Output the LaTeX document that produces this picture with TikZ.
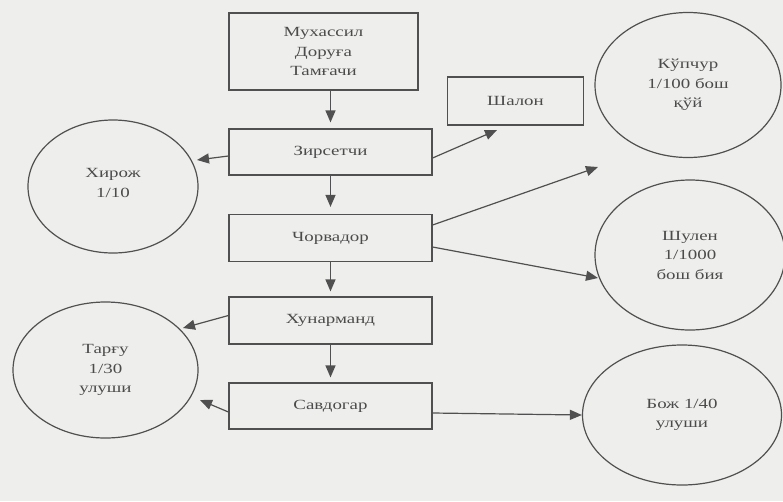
\documentclass[tikz,border=0pt]{standalone}
\usepackage{fontspec}
\setmainfont{Liberation Serif}[FakeStretch=1.35]
\usetikzlibrary{arrows.meta,shapes.geometric,calc}
\definecolor{bg}{RGB}{238,238,236}
\definecolor{ink}{RGB}{80,80,80}
\definecolor{txt}{RGB}{75,75,75}
\tikzset{
  box/.style={draw=ink,line width=1.2pt,fill=bg,inner sep=0pt,align=center,text=txt,
    font=\fontsize{14}{19.5}\selectfont},
  oval/.style={draw=ink,line width=1.2pt,ellipse,inner sep=0pt,align=center,text=txt,
    font=\fontsize{14}{19.5}\selectfont},
  arr/.style={draw=ink,line width=1.2pt,-{Triangle[length=12pt,width=10pt]}},
}
\begin{document}
\begin{tikzpicture}[x=1pt,y=-1pt]
\fill[bg] (0,0) rectangle (783,501);
\useasboundingbox (0,0) rectangle (783,501);
% boxes
\node[box,minimum width=189pt,minimum height=77pt] (muh) at (323.5,51.5) {Мухассил\\Доруға\\Тамғачи};
\node[box,minimum width=136pt,minimum height=48pt] (shal) at (515.5,101) {Шалон};
\node[box,minimum width=203pt,minimum height=46pt] (zir) at (330.5,152) {Зирсетчи};
\node[box,minimum width=203pt,minimum height=47pt] (chor) at (330.5,238) {Чорвадор};
\node[box,minimum width=203pt,minimum height=47pt] (hun) at (330.5,320.5) {Хунарманд};
\node[box,minimum width=203pt,minimum height=46pt] (sav) at (330.5,406) {Савдогар};
% ellipses
\node[oval,minimum width=170pt,minimum height=133pt] (hir) at (113,186.5) {Хирож\\1/10\\[-12pt]\mbox{}};
\node[oval,minimum width=186pt,minimum height=145pt] (kup) at (688,85) {Кўпчур\\1/100 бош\\қўй};
\node[oval,minimum width=190pt,minimum height=150pt] (shul) at (690,255) {Шулен\\1/1000\\бош бия};
\node[oval,minimum width=185pt,minimum height=136pt] (tar) at (105.5,370) {Тарғу\\1/30\\улуши};
\node[oval,minimum width=199pt,minimum height=140pt] (boj) at (682,415) {Бож 1/40\\улуши};
% free ends
\coordinate (tShal) at (497,130);
\coordinate (tKup) at (598,167);
\coordinate (tShul) at (598,278);
\coordinate (tHir) at (197,160);
\coordinate (tTar1) at (183,328);
\coordinate (tTar2) at (200,400);
% vertical arrows
\draw[arr,shorten >=6pt] (muh.south -| zir.north) -- (zir.north);
\draw[arr,shorten >=7pt] (zir.south) -- (chor.north);
\draw[arr,shorten >=5pt] (chor.south) -- (hun.north);
\draw[arr,shorten >=5pt] (hun.south) -- (sav.north);
% side arrows
\draw[arr] ([yshift=-4pt]zir.west) -- (tHir);
\draw[arr] ([yshift=-6pt]zir.east) -- (tShal);
\draw[arr] ([yshift=13pt]chor.east) -- (tKup);
\draw[arr] ([yshift=-9pt]chor.east) -- (tShul);
\draw[arr] ([yshift=5pt]hun.west) -- (tTar1);
\draw[arr] ([yshift=-6pt]sav.west) -- (tTar2);
\draw[arr] ([yshift=-7pt]sav.east) -- (boj.west);
\end{tikzpicture}
\end{document}
